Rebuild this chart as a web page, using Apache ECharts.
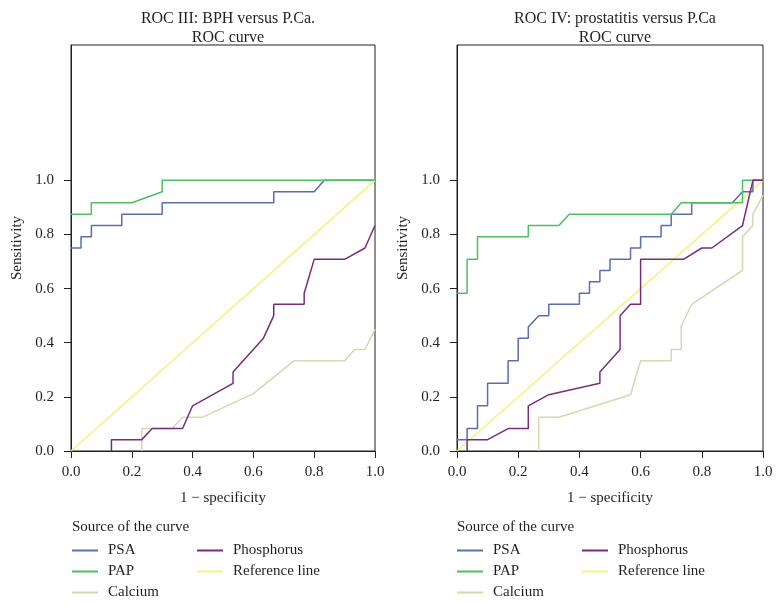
<!DOCTYPE html>
<html>
<head>
<meta charset="utf-8">
<script src="https://cdn.jsdelivr.net/npm/echarts@6/dist/echarts.min.js"></script>
<style>
html,body{margin:0;padding:0;background:#fff;}
#chart{width:783px;height:607px;}
</style>
</head>
<body>
<div id="chart"></div>
<script>
// ---- data ----
const titles = ['ROC III: BPH versus P.Ca.', 'ROC IV: prostatitis versus P.Ca'];
const subTitle = 'ROC curve';
const xName = '1 \u2212 specificity';
const yName = 'Sensitivity';
const legendTitle = 'Source of the curve';
const seriesNames = ['PSA', 'PAP', 'Calcium', 'Phosphorus', 'Reference line'];
const tickValues = [0, 0.2, 0.4, 0.6, 0.8, 1.0];

// Left panel: BPH versus P.Ca  ([1-specificity, sensitivity])
const bphPSA = [[0,0.75],[0.033,0.75],[0.033,0.792],[0.067,0.792],[0.067,0.833],[0.167,0.833],[0.167,0.875],[0.3,0.875],[0.3,0.917],[0.667,0.917],[0.667,0.958],[0.8,0.958],[0.833,1],[1,1]];
const bphPAP = [[0,0.875],[0.067,0.875],[0.067,0.917],[0.2,0.917],[0.3,0.958],[0.3,1],[1,1]];
const bphCalcium = [[0.233,0],[0.233,0.083],[0.333,0.083],[0.367,0.125],[0.433,0.125],[0.6,0.212],[0.733,0.333],[0.9,0.333],[0.933,0.375],[0.967,0.375],[1,0.45]];
const bphPhosphorus = [[0.133,0],[0.133,0.042],[0.233,0.042],[0.267,0.083],[0.367,0.083],[0.4,0.167],[0.533,0.25],[0.533,0.292],[0.633,0.417],[0.667,0.5],[0.667,0.542],[0.767,0.542],[0.767,0.583],[0.8,0.708],[0.9,0.708],[0.967,0.75],[1,0.833]];
const bphReference = [[0,0],[1,1]];

// Right panel: prostatitis versus P.Ca
const proPSA = [[0,0.042],[0.033,0.042],[0.033,0.083],[0.067,0.083],[0.067,0.167],[0.1,0.167],[0.1,0.25],[0.167,0.25],[0.167,0.333],[0.2,0.333],[0.2,0.417],[0.233,0.417],[0.233,0.458],[0.267,0.5],[0.3,0.5],[0.3,0.542],[0.4,0.542],[0.4,0.583],[0.433,0.583],[0.433,0.625],[0.467,0.625],[0.467,0.667],[0.5,0.667],[0.5,0.708],[0.567,0.708],[0.567,0.75],[0.6,0.75],[0.6,0.792],[0.667,0.792],[0.667,0.833],[0.7,0.833],[0.7,0.875],[0.767,0.875],[0.767,0.917],[0.9,0.917],[0.933,0.958],[0.967,0.958],[0.967,1],[1,1]];
const proPAP = [[0,0.583],[0.033,0.583],[0.033,0.708],[0.067,0.708],[0.067,0.792],[0.233,0.792],[0.233,0.833],[0.333,0.833],[0.367,0.875],[0.7,0.875],[0.733,0.917],[0.933,0.917],[0.933,1],[1,1]];
const proCalcium = [[0.267,0],[0.267,0.125],[0.333,0.125],[0.567,0.208],[0.6,0.333],[0.7,0.333],[0.7,0.375],[0.733,0.375],[0.733,0.462],[0.767,0.542],[0.933,0.667],[0.933,0.792],[0.967,0.833],[0.967,0.875],[1,0.945]];
const proPhosphorus = [[0.033,0],[0.033,0.042],[0.1,0.042],[0.167,0.083],[0.233,0.083],[0.233,0.167],[0.3,0.208],[0.467,0.25],[0.467,0.292],[0.533,0.375],[0.533,0.5],[0.567,0.542],[0.6,0.542],[0.6,0.708],[0.74,0.708],[0.8,0.75],[0.833,0.75],[0.933,0.833],[0.967,1],[1,1]];
const proReference = [[0,0],[1,1]];

// ---- styles ----
const FONT = '"Liberation Serif", "DejaVu Serif", serif';
const TXT = '#231f20';
const colors = {
  'PSA': '#5a6cb2',
  'PAP': '#4fbd63',
  'Calcium': '#d9d6ae',
  'Phosphorus': '#7a2c7c',
  'Reference line': '#f4f27a'
};

const panels = [
  {data: [bphPSA, bphPAP, bphCalcium, bphPhosphorus, bphReference], left: 71, right: 408, center: 223, nameX: 72},
  {data: [proPSA, proPAP, proCalcium, proPhosphorus, proReference], left: 457, right: 20, center: 610, nameX: 457}
];

const option = {
  backgroundColor: '#fff',
  animation: false,
  title: [],
  grid: [],
  xAxis: [],
  yAxis: [],
  legend: [],
  series: [],
  graphic: []
};

panels.forEach((p, i) => {
  option.title.push({
    text: titles[i], left: p.center, top: 6, textAlign: 'center',
    textStyle: {fontFamily: FONT, fontSize: 16, fontWeight: 'normal', color: TXT}
  });
  option.title.push({
    text: subTitle, left: p.center, top: 25, textAlign: 'center',
    textStyle: {fontFamily: FONT, fontSize: 16, fontWeight: 'normal', color: TXT}
  });
  option.grid.push({
    left: p.left, right: p.right, top: 45, bottom: 156,
    show: true, borderColor: '#231f20', borderWidth: 1, backgroundColor: 'transparent'
  });
  option.xAxis.push({
    type: 'value', gridIndex: i, min: 0, max: 1, interval: 0.2,
    name: xName, nameLocation: 'middle', nameGap: 40,
    nameTextStyle: {fontFamily: FONT, fontSize: 15, color: TXT},
    axisLine: {show: true, lineStyle: {color: '#231f20', width: 1}},
    axisTick: {show: true, length: 7, lineStyle: {color: '#231f20'}},
    axisLabel: {fontFamily: FONT, fontSize: 15, color: TXT, margin: 14, formatter: v => v.toFixed(1)},
    splitLine: {show: false}
  });
  option.yAxis.push({
    type: 'value', gridIndex: i, min: 0, max: 1.5,
    name: yName, nameLocation: 'middle', nameGap: 46,
    nameTextStyle: {fontFamily: FONT, fontSize: 15, color: TXT},
    axisLine: {show: true, lineStyle: {color: '#231f20', width: 1}},
    axisTick: {show: true, length: 7, customValues: tickValues, lineStyle: {color: '#231f20'}},
    axisLabel: {fontFamily: FONT, fontSize: 15, color: TXT, margin: 17, customValues: tickValues, formatter: v => v.toFixed(1)},
    splitLine: {show: false}
  });
  // draw reference line first so curves overlay it
  const order = [4, 0, 1, 2, 3];
  order.forEach(k => {
    const name = seriesNames[k];
    option.series.push({
      name: name, type: 'line', xAxisIndex: i, yAxisIndex: i,
      data: p.data[k], showSymbol: false, symbol: 'none', silent: true,
      lineStyle: {color: colors[name], width: 1.5},
      itemStyle: {color: colors[name]},
      z: k === 4 ? 2 : 3
    });
  });
  option.graphic.push({
    type: 'text', left: p.nameX, top: 520,
    style: {text: legendTitle, fontFamily: FONT, fontSize: 15, fill: TXT}
  });
  const legCommon = {
    orient: 'vertical', top: 543, itemWidth: 26, itemHeight: 2, icon: 'rect',
    itemGap: 6, selectedMode: false,
    textStyle: {fontFamily: FONT, fontSize: 15, color: TXT, padding: [0, 0, 0, 5]},
    padding: 0
  };
  option.legend.push(Object.assign({}, legCommon, {left: p.nameX, data: ['PSA', 'PAP', 'Calcium']}));
  option.legend.push(Object.assign({}, legCommon, {left: p.nameX + 125, data: ['Phosphorus', 'Reference line']}));
});

const chart = echarts.init(document.getElementById('chart'), null, {renderer: 'canvas'});
chart.setOption(option);
</script>
</body>
</html>
